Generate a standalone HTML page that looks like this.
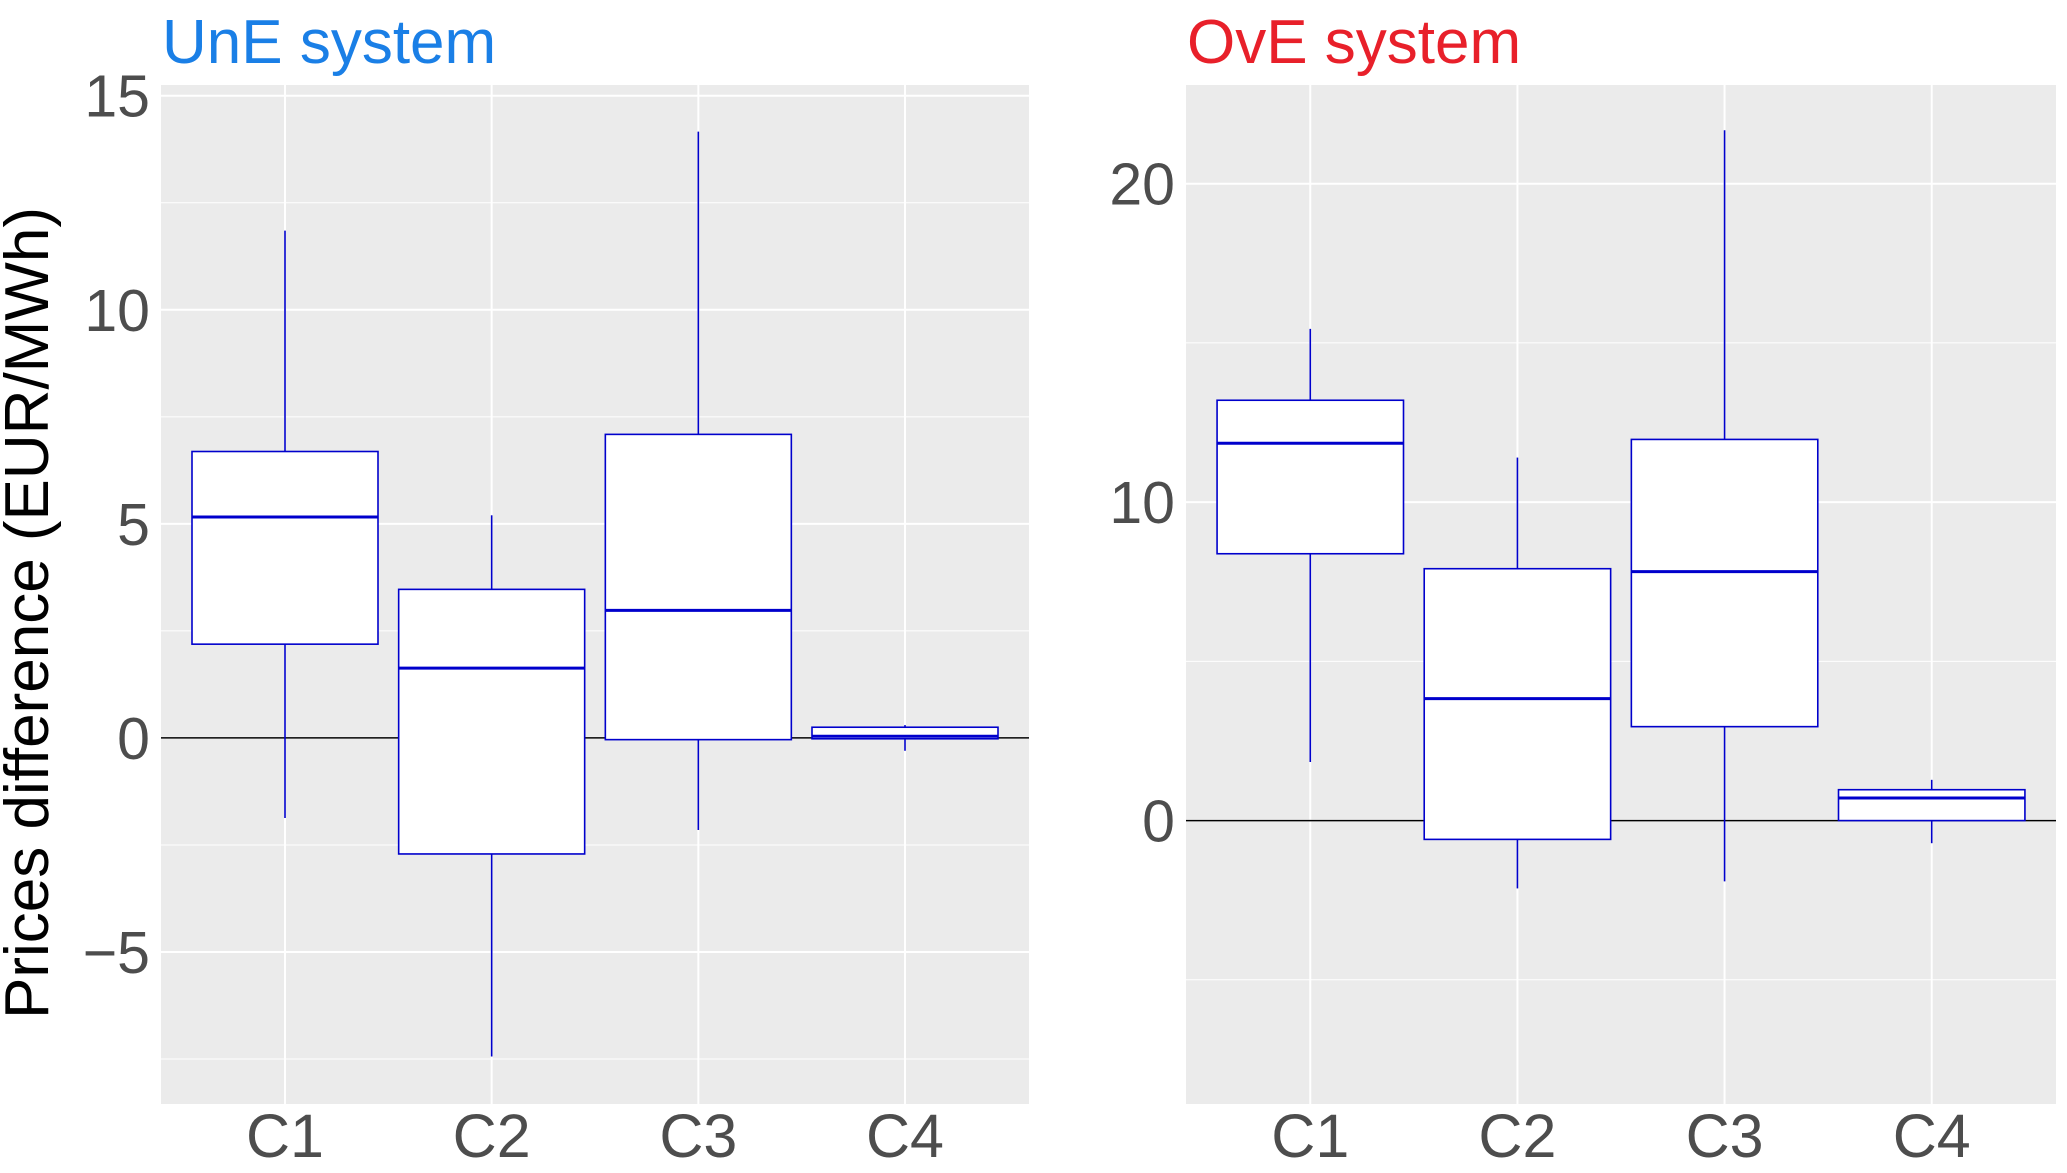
<!DOCTYPE html>
<html><head><meta charset="utf-8"><style>
body{margin:0;background:#fff}
svg{display:block;font-family:"Liberation Sans",Arial,sans-serif}
</style></head><body>
<svg id="chart" width="2067" height="1173">
<text x="48" y="613" font-size="62" fill="#000" text-anchor="middle" transform="rotate(-90 48 613)">Prices difference (EUR/MWh)</text>
</svg>
<script>
const categories = ["C1","C2","C3","C4"];
const uneLow = [-1.87,-7.44,-2.15,-0.3];
const uneQ1 = [2.19,-2.71,-0.04,-0.02];
const uneMed = [5.16,1.63,2.98,0.04];
const uneQ3 = [6.69,3.47,7.09,0.25];
const uneHigh = [11.85,5.2,14.16,0.3];
const uneTicks = [-5,0,5,10,15];
const oveLow = [1.84,-2.13,-1.91,-0.71];
const oveQ1 = [8.38,-0.59,2.95,0];
const oveMed = [11.85,3.83,7.82,0.71];
const oveQ3 = [13.2,7.91,11.97,0.97];
const oveHigh = [15.44,11.4,21.68,1.28];
const oveTicks = [0,10,20];
const NS="http://www.w3.org/2000/svg";
const svg=document.getElementById('chart');
function mk(tag,attrs,parent){const e=document.createElementNS(NS,tag);for(const k in attrs)e.setAttribute(k,attrs[k]);(parent||svg).appendChild(e);return e;}
function panel(p){
  const g=mk('g',{});
  
  
  const y=v=>p.top+(p.ymax-v)/(p.ymax-p.ymin)*(p.bottom-p.top);
  const n=categories.length;
  const unit=(p.right-p.left)/(n-1+1.2);
  const x=i=>p.left+unit*(i+0.6);
  const bg=mk('rect',{x:p.left,y:p.top,width:p.right-p.left,height:p.bottom-p.top,fill:'#ebebeb'},g);
  
  
  const step=p.ticks[1]-p.ticks[0];
  for(let v=Math.ceil(p.ymin/(step/2))*(step/2);v<=p.ymax;v+=step/2){
    const major=Math.abs(v/step-Math.round(v/step))<1e-9;
    const l=mk('line',{x1:p.left,x2:p.right,y1:y(v),y2:y(v),stroke:'#fff','stroke-width':major?2:1},g);
    
    
  }
  categories.forEach((c,i)=>{
    const l=mk('line',{x1:x(i),x2:x(i),y1:p.top,y2:p.bottom,stroke:'#fff','stroke-width':2},g);
    
    
  });
  const z=mk('line',{x1:p.left,x2:p.right,y1:y(0),y2:y(0),stroke:'#000','stroke-width':1.5},g);
  
  
  const hw=unit*0.45;
  categories.forEach((c,i)=>{
    const bx=mk('g',{},g);
    
    
    mk('line',{x1:x(i),x2:x(i),y1:y(p.high[i]),y2:y(p.q3[i]),stroke:'#0000cc','stroke-width':1.6},bx);
    mk('line',{x1:x(i),x2:x(i),y1:y(p.q1[i]),y2:y(p.low[i]),stroke:'#0000cc','stroke-width':1.6},bx);
    mk('rect',{x:x(i)-hw,y:y(p.q3[i]),width:2*hw,height:Math.max(0.5,y(p.q1[i])-y(p.q3[i])),fill:'#fff',stroke:'#0000cc','stroke-width':1.6},bx);
    mk('line',{x1:x(i)-hw,x2:x(i)+hw,y1:y(p.med[i]),y2:y(p.med[i]),stroke:'#0000cc','stroke-width':3},bx);
    const t=mk('text',{x:x(i),y:1157,'font-size':61,fill:'#4d4d4d','text-anchor':'middle'},g);
    t.textContent=c;
    
    
  });
  p.ticks.forEach(v=>{
    const t=mk('text',{x:p.left-11,y:y(v)+21,'font-size':59,fill:'#4d4d4d','text-anchor':'end'},g);
    t.textContent=v<0?'\u2212'+Math.abs(v):String(v);
    
    
  });
  const ti=mk('text',{x:p.left+1,y:63,'font-size':62,fill:p.color},g);
  ti.textContent=p.title;
  
  
}
panel({name:'une-panel',title:'UnE system',color:'#1a7fe6',left:161,right:1029,top:85,bottom:1104,ymin:-8.55,ymax:15.25,ticks:uneTicks,low:uneLow,q1:uneQ1,med:uneMed,q3:uneQ3,high:uneHigh});
panel({name:'ove-panel',title:'OvE system',color:'#e8202a',left:1186,right:2056,top:85,bottom:1104,ymin:-8.9,ymax:23.1,ticks:oveTicks,low:oveLow,q1:oveQ1,med:oveMed,q3:oveQ3,high:oveHigh});
</script>
</body></html>
